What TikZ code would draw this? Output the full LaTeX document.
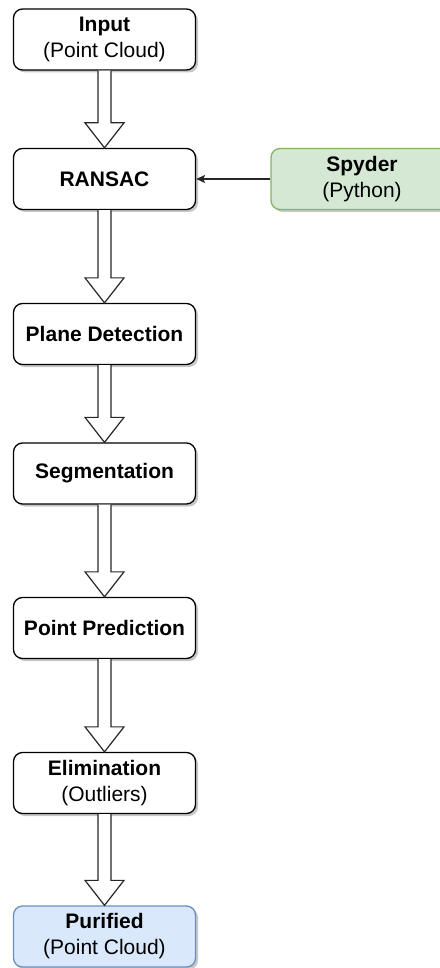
\documentclass[tikz,border=0pt]{standalone}
\usepackage{fontspec}
\setmainfont{Liberation Sans}
\usetikzlibrary{calc,arrows.meta,shadows}
\tikzset{
  box/.style={draw=black, line width=1.3pt, rounded corners=9pt,
    minimum width=182pt, minimum height=61pt, inner sep=0pt, align=center,
    fill=white, font=\fontsize{21}{26}\selectfont,
    drop shadow={shadow xshift=2.5pt, shadow yshift=-2.5pt, opacity=0.22, fill=black}},
  greenbox/.style={box, fill={rgb,255:red,213;green,232;blue,212}, draw={rgb,255:red,130;green,179;blue,102}},
  bluebox/.style={box, fill={rgb,255:red,218;green,232;blue,252}, draw={rgb,255:red,108;green,142;blue,191}},
  fatarrow/.style={draw=black!85, line width=1.2pt, fill=white, line join=miter},
  thinarrow/.style={draw=black!85, line width=1.2pt, -{Stealth[length=9pt,width=8pt,inset=2pt]}}
}
\newcommand\fatarr[2]{%
  \draw[fatarrow] ($(#1.south)+(-6.5,0)$) -- ($(#2.north)+(-6.5,-25)$)
    -- ($(#2.north)+(-19.5,-25)$) -- (#2.north)
    -- ($(#2.north)+(19.5,-25)$) -- ($(#2.north)+(6.5,-25)$)
    -- ($(#1.south)+(6.5,0)$);}
\begin{document}
\begin{tikzpicture}[x=1pt,y=-1pt]
\useasboundingbox (0,0) rectangle (439,968);
\node[box] (input) at (104.5,39.5) {\textbf{Input}\\(Point Cloud)};
\node[box] (ransac) at (104.5,179) {\textbf{RANSAC}};
\node[greenbox] (spyder) at (362,179) {\textbf{Spyder}\\(Python)};
\node[box] (plane) at (104.5,334) {\textbf{Plane Detection}};
\node[box] (seg) at (104.5,473.5) {\textbf{Segmentation}};
\node[box] (pp) at (104.5,628) {\textbf{Point Prediction}};
\node[box] (elim) at (104.5,783) {\textbf{Elimination}\\(Outliers)};
\node[bluebox] (pur) at (104.5,936.5) {\textbf{Purified}\\(Point Cloud)};
\fatarr{input}{ransac}
\fatarr{ransac}{plane}
\fatarr{plane}{seg}
\fatarr{seg}{pp}
\fatarr{pp}{elim}
\fatarr{elim}{pur}
\draw[thinarrow] (spyder.west) -- (ransac.east);
\end{tikzpicture}
\end{document}
